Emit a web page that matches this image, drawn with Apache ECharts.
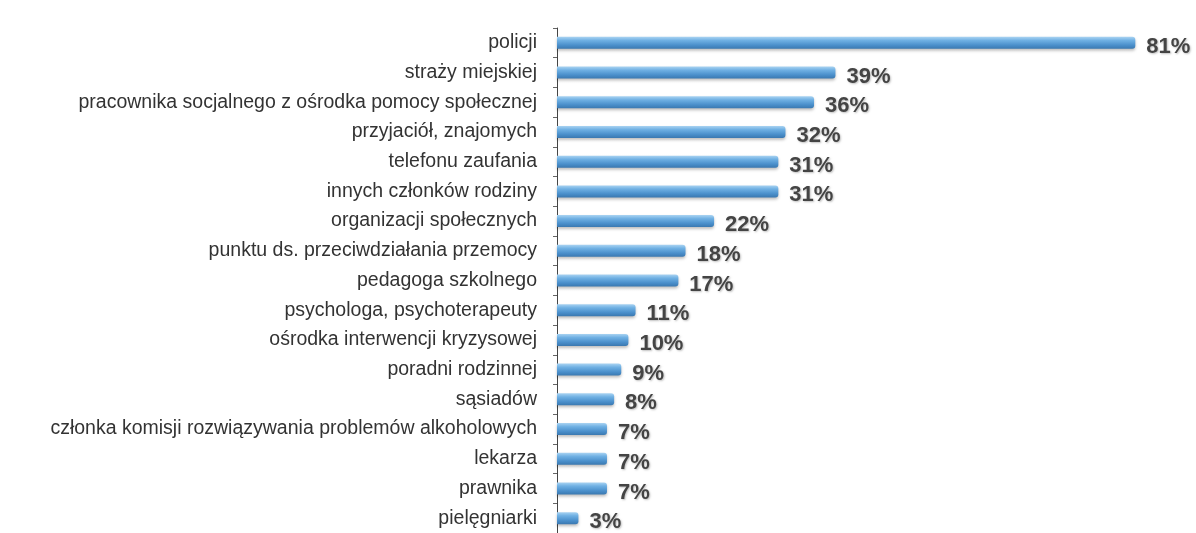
<!DOCTYPE html>
<html><head><meta charset="utf-8">
<script src="https://cdn.jsdelivr.net/npm/echarts@6/dist/echarts.min.js"></script>
<style>html,body{margin:0;padding:0;background:#fff}#c{width:1196px;height:533px}</style>
</head><body><div id="c"></div>
<script>
const categories = ["policji","straży miejskiej","pracownika socjalnego z ośrodka pomocy społecznej","przyjaciół, znajomych","telefonu zaufania","innych członków rodziny","organizacji społecznych","punktu ds. przeciwdziałania przemocy","pedagoga szkolnego","psychologa, psychoterapeuty","ośrodka interwencji kryzysowej","poradni rodzinnej","sąsiadów","członka komisji rozwiązywania problemów alkoholowych","lekarza","prawnika","pielęgniarki"];
const values = [81,39,36,32,31,31,22,18,17,11,10,9,8,7,7,7,3];

const chart = echarts.init(document.getElementById('c'));
chart.setOption({
  animation:false,
  backgroundColor:'#fff',
  grid:{left:557,right:25,top:28,bottom:-1,containLabel:false},
  xAxis:{type:'value',min:0,max:86,show:false},
  yAxis:{type:'category',inverse:true,data:categories,
    axisLine:{show:true,lineStyle:{color:'#444',width:1}},
    axisTick:{show:true,length:4,lineStyle:{color:'#666'}},
    axisLabel:{margin:20,color:'#333',fontFamily:'Liberation Sans, Arial, sans-serif',fontSize:19.5}
  },
  series:[{type:'bar',data:values,barWidth:12,
    itemStyle:{
      color:new echarts.graphic.LinearGradient(0,0,0,1,[
        {offset:0,color:'#a9d3f2'},{offset:0.3,color:'#6fb0e3'},{offset:0.7,color:'#4a8fcb'},{offset:1,color:'#3a78b0'}]),
      borderRadius:[0,3,3,0],
      shadowColor:'rgba(0,0,0,0.25)',shadowBlur:3,shadowOffsetY:2
    },
    label:{show:true,position:'right',distance:11,formatter:'{c}%',color:'#444',fontWeight:'bold',
      fontFamily:'Liberation Sans, Arial, sans-serif',fontSize:22,offset:[0,4],
      textShadowColor:'rgba(0,0,0,0.25)',textShadowBlur:2,textShadowOffsetX:1,textShadowOffsetY:1}
  }]
});
</script></body></html>
